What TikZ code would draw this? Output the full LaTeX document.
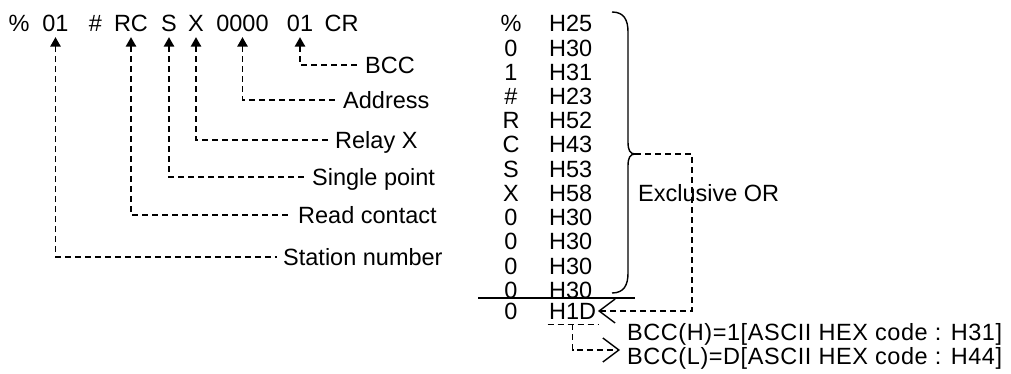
\documentclass[tikz,border=0pt]{standalone}
\usepackage{fontspec}
\setmainfont{Liberation Sans}
\newfontfamily\spacedfont[LetterSpace=2.4]{Liberation Sans}
\usetikzlibrary{arrows.meta}
\begin{document}
\begin{tikzpicture}[x=1pt,y=-1pt,
  txt/.style={font=\fontsize{23.5}{24}\selectfont, inner sep=0pt, text height=17pt, text depth=0pt},
  tok/.style={txt, inner xsep=0pt, inner ysep=5pt},
  lbl/.style={txt, anchor=west, inner xsep=6pt},
  bcctxt/.style={txt, anchor=west, inner xsep=2pt, font=\spacedfont\fontsize{23.5}{24}\selectfont},
  dsh/.style={line width=1.4pt, dash pattern=on 6pt off 4pt},
  up/.style={dsh, {Triangle[length=9.5pt,width=10.5pt]}-},
  barb/.style={dsh, -{Straight Barb[length=16pt,width=24pt,line width=1.4pt]}},
  solidline/.style={line width=1.4pt}
]
\fill[white] (0,0) rectangle (1011,374);
\useasboundingbox (0,0) rectangle (1011,374);

% command string
\node[tok] (pct)  at (19,23.5)   {\%};
\node[tok] (st)   at (55.5,23.5) {01};
\node[tok] (hash) at (95.5,23.5) {\#};
\node[tok] (rc)   at (131,23.5)  {RC};
\node[tok] (s)    at (169,23.5)  {S};
\node[tok] (xx)   at (196,23.5)  {X};
\node[tok] (addr) at (242.5,23.5){0000};
\node[tok] (bcc)  at (300,23.5)  {01};
\node[tok] (cr)   at (341.5,23.5){CR};

% labels
\node[lbl] (lbcc) at (359,65)  {BCC};
\node[lbl] (laddr) at (337,100) {Address};
\node[lbl] (lrel) at (329,140) {Relay X};
\node[lbl] (lsgl) at (306,177) {Single point};
\node[lbl] (lrd)  at (292,215) {Read contact};
\node[lbl] (lst)  at (277,257) {Station number};

\draw[up] (bcc.south)  |- (lbcc.west);
\draw[up] (addr.south) |- (laddr.west);
\draw[up] (xx.south)   |- (lrel.west);
\draw[up] (s.south)    |- (lsgl.west);
\draw[up] (rc.south)   |- (lrd.west);
\draw[up] (st.south)   |- (lst.west);

% table
\foreach [count=\i from 0] \c/\h in {\%/H25,0/H30,1/H31,\#/H23,R/H52,C/H43,S/H53,X/H58,0/H30,0/H30,0/H30,0/H30}{
  \node[txt] (c\i) at (511,{23.5+24.2*\i}) {\c};
  \node[txt, anchor=west] (h\i) at (549,{23.5+24.2*\i}) {\h};
}
\draw[solidline] (478,298) -- (635,298);
\node[txt] (c12) at (511,311) {0};
\node[txt, anchor=west, inner xsep=1.5pt, inner ysep=4.5pt] (h1d) at (547.5,311) {H1D};

% brace
\draw[solidline] (612,12) .. controls (624,12) and (628,20) .. (628,32) -- (628,142)
  .. controls (628,150) and (630,154) .. (635,154)
  .. controls (630,154) and (628,158) .. (628,166) -- (628,273)
  .. controls (628,285) and (624,293) .. (612,293);
\coordinate (tip) at (635,154);

\draw[barb] (tip) -- ++(57,0) |- (h1d.east);
\node[txt, anchor=west, inner xsep=1pt] (xor) at (637,193) {Exclusive OR};

% BCC result
\draw[dsh] (h1d.south west) -- (h1d.south east);
\coordinate (barr) at (620,350);
\draw[barb] (h1d.south) |- (barr);
\node[bcctxt] (bh) at (625,332) {BCC(H)=1[ASCII HEX code : H31]};
\node[bcctxt] (bl) at (625,356) {BCC(L)=D[ASCII HEX code : H44]};
\end{tikzpicture}
\end{document}
